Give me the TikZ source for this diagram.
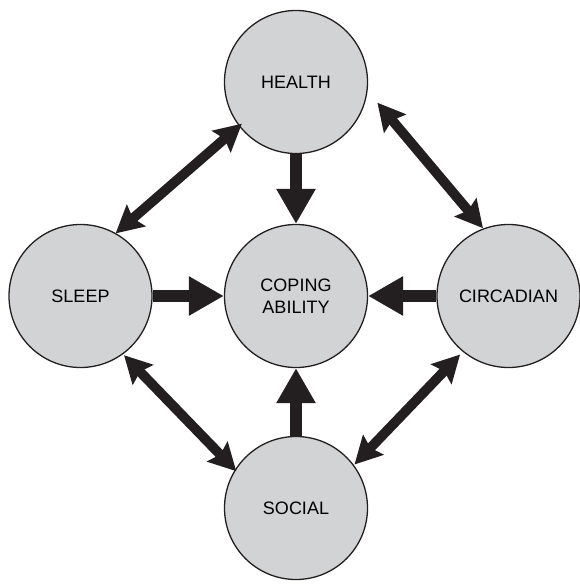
\documentclass[tikz,border=0pt]{standalone}
\usepackage{fontspec}
\setmainfont{Liberation Sans}
\usetikzlibrary{arrows.meta}
\definecolor{circfill}{HTML}{D1D3D4}
\definecolor{ink}{HTML}{231F20}
\begin{document}
\begin{tikzpicture}[x=1pt,y=-1pt,
  factor/.style={circle, draw=ink, line width=1.3pt, fill=circfill,
    minimum size=143pt, inner sep=0pt, align=center,
    font=\fontsize{18pt}{22pt}\selectfont, text=black},
  bigarrow/.style={draw=ink, line width=12pt,
    -{Triangle[width=37pt,length=35pt]}},
  duo/.style={draw=ink, line width=9.8pt,
    {Stealth[width=28pt,length=27pt,inset=4pt]}-{Stealth[width=28pt,length=27pt,inset=4pt]}}]
\useasboundingbox (0,0) rectangle (579,584);
\node[factor] (health) at (296,82) {HEALTH};
\node[factor] (coping) at (296,296) {COPING\\ABILITY};
\node[factor] (sleep) at (80.5,296) {SLEEP};
\node[factor] (circ) at (508.5,296) {CIRCADIAN};
\node[factor] (social) at (296,508) {SOCIAL};
% straight arrows into coping
\draw[bigarrow] (health.south) -- (coping.north);
\draw[bigarrow] (sleep.east) -- (coping.west);
\draw[bigarrow] (circ.west) -- (coping.east);
\draw[bigarrow] (social.north) -- (coping.south);
% diagonal double arrows
\coordinate (hs) at (241.9,123.7);
\coordinate (sh) at (115.6,233.4);
\coordinate (hc) at (377.4,102.7);
\coordinate (ch) at (483,228.2);
\coordinate (ss) at (124,355.2);
\coordinate (os) at (236.3,471.2);
\coordinate (cs) at (460.1,354.5);
\coordinate (oc) at (354.5,464.5);
\draw[duo] (hs) -- (sh);
\draw[duo] (hc) -- (ch);
\draw[duo] (ss) -- (os);
\draw[duo] (cs) -- (oc);
\end{tikzpicture}
\end{document}
